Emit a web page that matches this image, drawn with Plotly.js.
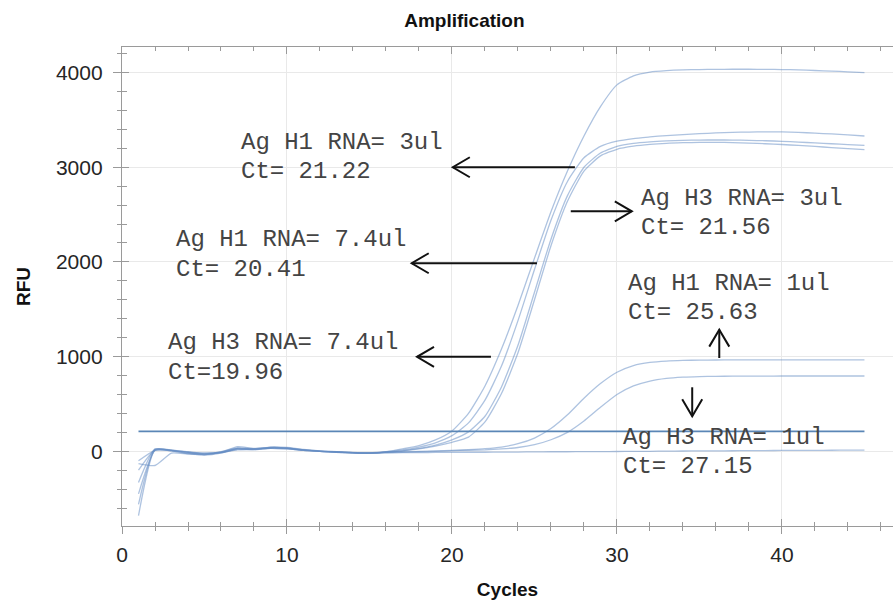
<!DOCTYPE html>
<html>
<head>
<meta charset="utf-8">
<script src="https://cdn.plot.ly/plotly-3.0.1.min.js"></script>
<style>html,body{margin:0;padding:0;background:#fff;}</style>
</head>
<body>
<div id="chart" style="width:893px;height:604px;"></div>
<script>
// ---- data ----
const cycles = [1,2,3,4,5,6,7,8,9,10,11,12,13,14,15,16,17,18,19,20,21,22,23,24,25,26,27,28,29,30,31,32,33,34,35,36,37,38,39,40,41,42,43,44,45];

const curveH3_74 = [-680,15,10,-5,-20,-10,20,25,35,30,15,5,-5,-15,-20,-5,25,60,120,215,400,690,1080,1540,2040,2530,2960,3330,3640,3870,3965,4005,4020,4028,4032,4034,4035,4035,4034,4032,4028,4022,4015,4008,4000];
const curveH1_74 = [-560,20,15,-10,-30,-15,30,20,40,35,10,0,-10,-15,-18,-5,15,45,90,165,300,540,900,1380,1920,2440,2850,3100,3220,3275,3303,3320,3335,3345,3355,3362,3368,3372,3374,3373,3368,3360,3352,3342,3330];
const curveH1_3 = [-450,10,5,-20,-35,-10,50,30,45,40,20,5,-5,-20,-22,-10,5,30,65,120,205,370,680,1120,1680,2240,2700,3000,3150,3220,3252,3268,3278,3284,3287,3288,3287,3284,3280,3274,3266,3257,3248,3239,3230];
const curveH3_3 = [-330,25,10,-15,-25,-5,35,25,30,25,10,0,-10,-18,-20,-8,5,25,55,95,150,310,610,1040,1600,2170,2640,2960,3120,3190,3222,3241,3253,3259,3262,3263,3260,3255,3248,3240,3230,3220,3208,3197,3187];
const curveH1_1 = [-200,15,5,-25,-40,-20,25,15,35,30,15,0,-5,-12,-15,-10,-5,0,5,10,18,28,45,80,140,240,385,560,715,835,905,938,953,960,963,964,965,965,966,966,966,966,966,966,966];
const curveH3_1 = [-130,-150,-20,-30,-35,-15,15,20,30,25,10,0,-8,-15,-18,-12,-8,-5,0,5,10,15,25,40,70,122,200,320,465,600,690,742,770,783,789,792,793,794,794,795,795,795,795,795,795];
const curveNeg = [-100,10,10,-10,-20,-10,30,25,40,35,15,0,-10,-15,-20,-18,-15,-15,-12,-12,-10,-10,-8,-8,-6,-5,-5,-4,-3,-2,0,0,2,3,4,5,6,7,8,9,10,10,11,12,12];

const thresholdCycles = [1, 45];
const thresholdRFU = [211, 211];

const xTickVals = [0, 10, 20, 30, 40];
const xTickText = ['0', '10', '20', '30', '40'];
const yTickVals = [0, 1000, 2000, 3000, 4000];
const yTickText = ['0', '1000', '2000', '3000', '4000'];

// annotation labels
const labelLine1 = ['Ag H1 RNA= 3ul', 'Ag H1 RNA= 7.4ul', 'Ag H3 RNA= 7.4ul', 'Ag H3 RNA= 3ul', 'Ag H1 RNA= 1ul', 'Ag H3 RNA= 1ul'];
const labelLine2 = ['Ct= 21.22', 'Ct= 20.41', 'Ct=19.96', 'Ct= 21.56', 'Ct= 25.63', 'Ct= 27.15'];
const labelCycle = [7.18, 3.2, 2.74, 31.37, 30.61, 30.28];
const labelRFU1 = [3264, 2239, 1146, 2672, 1774, 151];
const labelRFU2 = [2952, 1922, 829, 2361, 1463, -156];

// arrows (tail -> tip), in cycles / RFU
const arrowTailCycle = [27.45, 27.2, 25.15, 22.36, 36.2, 34.56];
const arrowTailRFU = [3000, 2535, 1986, 998, 985, 676];
const arrowTipCycle = [20.05, 30.9, 17.56, 17.88, 36.2, 34.56];
const arrowTipRFU = [3000, 2535, 1986, 998, 1285, 370];

// ---- layout geometry ----
const W = 893, H = 604;
const M = {l: 122, r: 0, t: 47, b: 78};
const xRange = [0, 46.73];
const yRange = [-789, 4270];
const plotW = W - M.l - M.r, plotH = H - M.t - M.b;
const pxPerX = plotW / (xRange[1] - xRange[0]);
const pxPerY = plotH / (yRange[1] - yRange[0]);

const curveColor = 'rgba(100,140,195,0.52)';
const series = [curveH3_74, curveH1_74, curveH1_3, curveH3_3, curveH1_1, curveH3_1, curveNeg];
const traces = series.map(s => ({
  type: 'scatter', mode: 'lines', x: cycles, y: s,
  line: {color: curveColor, width: 1.3, shape: 'spline', smoothing: 0.55},
  hoverinfo: 'skip', showlegend: false
}));
traces.push({
  type: 'scatter', mode: 'lines', x: thresholdCycles, y: thresholdRFU,
  xaxis: 'x2', yaxis: 'y2',
  line: {color: '#5a86b6', width: 1.8},
  hoverinfo: 'skip', showlegend: false
});

// arrows as shapes
const shapes = [];
const arrowStyle = {color: '#111111', width: 2};
for (let i = 0; i < arrowTipCycle.length; i++) {
  const x0 = arrowTailCycle[i], y0 = arrowTailRFU[i];
  const x1 = arrowTipCycle[i], y1 = arrowTipRFU[i];
  shapes.push({type: 'line', xref: 'x', yref: 'y', x0: x0, y0: y0, x1: x1, y1: y1, line: arrowStyle});
  let dx = (x1 - x0) * pxPerX, dy = (y1 - y0) * pxPerY;
  const len = Math.hypot(dx, dy); dx /= len; dy /= len;
  const L = 17, Wd = 10;
  const nx = -dy, ny = dx;
  const ax = x1 + (-L * dx + Wd * nx) / pxPerX, ay = y1 + (-L * dy + Wd * ny) / pxPerY;
  const bx = x1 + (-L * dx - Wd * nx) / pxPerX, by = y1 + (-L * dy - Wd * ny) / pxPerY;
  shapes.push({type: 'path', xref: 'x', yref: 'y',
    path: `M ${ax} ${ay} L ${x1} ${y1} L ${bx} ${by}`,
    line: arrowStyle, fillcolor: 'rgba(0,0,0,0)'});
}

// annotation texts
const annFont = {family: '"Courier New", "Liberation Mono", monospace', size: 24, color: '#444444'};
const annotations = [];
for (let i = 0; i < labelLine1.length; i++) {
  annotations.push({xref: 'x', yref: 'y', x: labelCycle[i], y: labelRFU1[i], text: labelLine1[i],
    showarrow: false, xanchor: 'left', yanchor: 'middle', font: annFont, borderpad: 0});
  annotations.push({xref: 'x', yref: 'y', x: labelCycle[i], y: labelRFU2[i], text: labelLine2[i],
    showarrow: false, xanchor: 'left', yanchor: 'middle', font: annFont, borderpad: 0});
}

const axisGray = '#9a9a9a';
const tickFont = {family: 'Arial, "Liberation Sans", sans-serif', size: 21, color: '#262626'};
const titleFont = {family: 'Arial, "Liberation Sans", sans-serif', size: 19, color: '#111111', weight: 'bold'};

const layout = {
  width: W, height: H,
  margin: M,
  paper_bgcolor: '#ffffff', plot_bgcolor: '#ffffff',
  showlegend: false,
  title: {text: 'Amplification', font: {family: 'Arial, "Liberation Sans", sans-serif', size: 19, color: '#111111', weight: 'bold'},
    x: 0.52, xanchor: 'center', xref: 'container', y: 1 - 20 / H, yanchor: 'middle', yref: 'container'},
  xaxis: {
    range: xRange, tickmode: 'array', tickvals: xTickVals, ticktext: xTickText,
    ticks: 'outside', ticklen: 7, tickwidth: 1, tickcolor: axisGray,
    minor: {tickmode: 'linear', tick0: 0, dtick: 2, ticks: 'outside', ticklen: 4, tickcolor: axisGray, showgrid: false},
    showline: true, linecolor: axisGray, linewidth: 1.2,
    showgrid: true, gridcolor: '#e9e9e9', gridwidth: 1, zeroline: false,
    tickfont: tickFont, ticklabelstandoff: 3,
    title: {text: 'Cycles', font: titleFont, standoff: 17},
    fixedrange: true
  },
  yaxis: {
    range: yRange, tickmode: 'array', tickvals: yTickVals, ticktext: yTickText,
    ticks: 'outside', ticklen: 8, tickwidth: 1, tickcolor: axisGray,
    minor: {tickmode: 'linear', tick0: 0, dtick: 200, ticks: 'outside', ticklen: 4, tickcolor: axisGray, showgrid: false},
    showline: true, linecolor: axisGray, linewidth: 1.2,
    showgrid: true, gridcolor: '#e9e9e9', gridwidth: 1, zeroline: false,
    tickfont: tickFont, ticklabelstandoff: 6,
    title: {text: 'RFU', font: titleFont, standoff: 20},
    fixedrange: true
  },
  xaxis2: {
    overlaying: 'x', anchor: 'y2', side: 'bottom', range: xRange,
    tickmode: 'array', tickvals: xTickVals, showticklabels: false,
    ticks: 'inside', ticklen: 7, tickwidth: 1, tickcolor: axisGray,
    minor: {tickmode: 'linear', tick0: 0, dtick: 2, ticks: 'inside', ticklen: 4, tickcolor: axisGray, showgrid: false},
    showline: true, linecolor: axisGray, linewidth: 1.2, mirror: 'ticks',
    showgrid: false, zeroline: false, fixedrange: true
  },
  yaxis2: {
    overlaying: 'y', anchor: 'x2', side: 'left', range: yRange,
    tickmode: 'array', tickvals: yTickVals, showticklabels: false,
    ticks: 'inside', ticklen: 7, tickwidth: 1, tickcolor: axisGray,
    minor: {tickmode: 'linear', tick0: 0, dtick: 200, ticks: 'inside', ticklen: 5, tickcolor: axisGray, showgrid: false},
    showline: false, showgrid: false, zeroline: false, fixedrange: true
  },
  shapes: shapes,
  annotations: annotations
};

Plotly.newPlot('chart', traces, layout, {displayModeBar: false, staticPlot: true});
</script>
</body>
</html>
